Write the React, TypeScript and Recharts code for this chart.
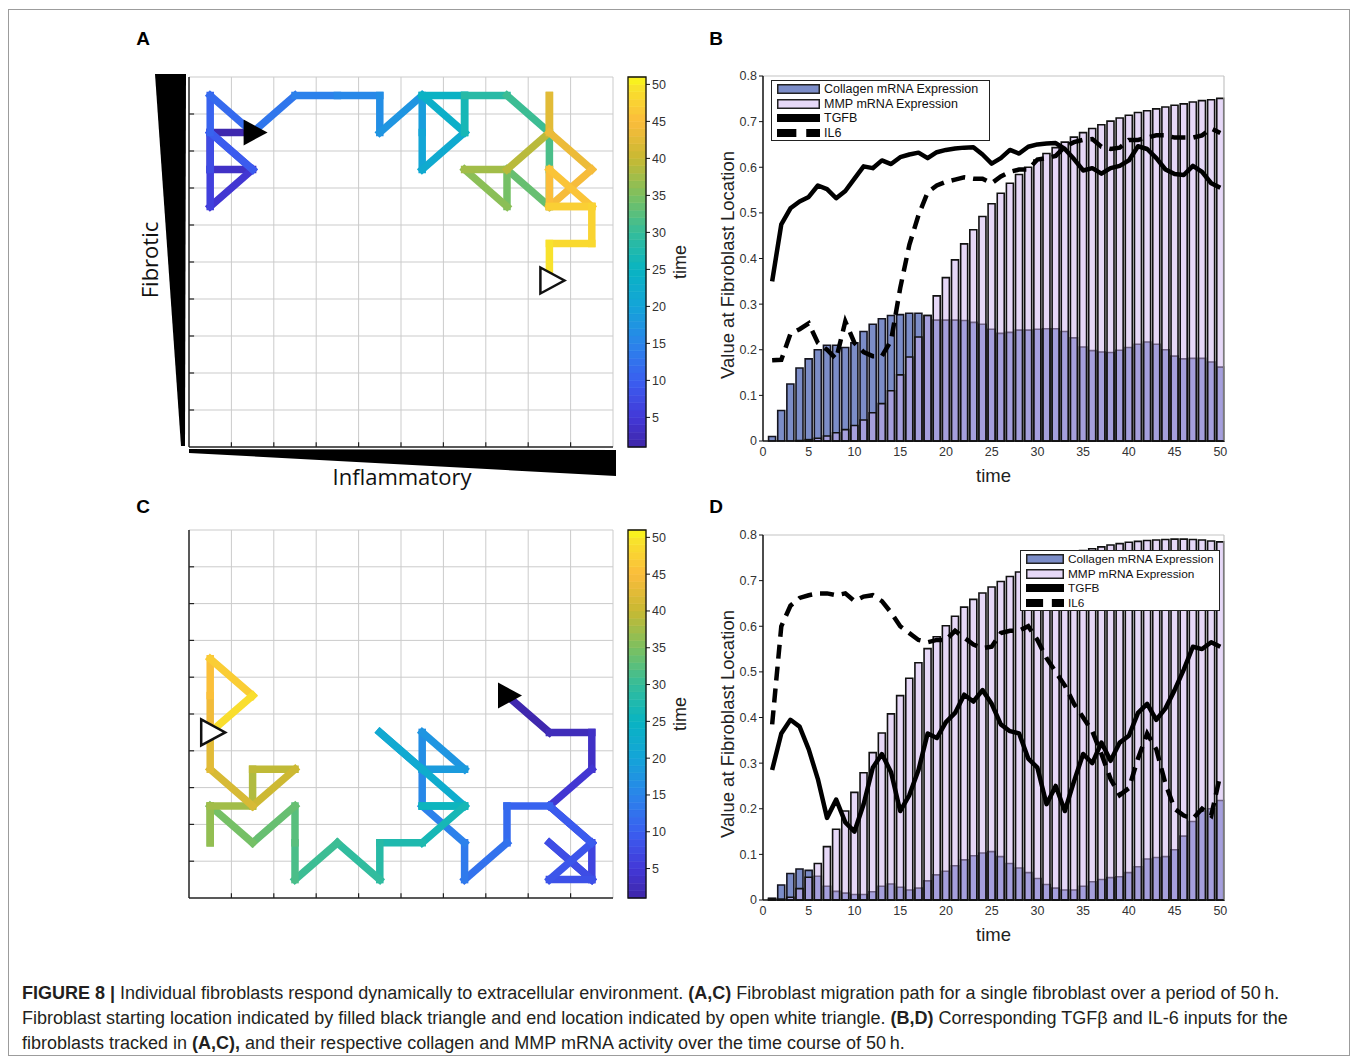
import React from "react";
import {
  ComposedChart,
  Line,
  Bar,
  XAxis,
  YAxis,
  Scatter,
  ReferenceArea,
  ReferenceLine,
} from "recharts";

const FONT = '"Liberation Sans", Arial, Helvetica, sans-serif';

// time steps for panels B and D
const timeSteps = [
  1, 2, 3, 4, 5, 6, 7, 8, 9, 10, 11, 12, 13, 14, 15, 16, 17, 18, 19, 20, 21, 22, 23, 24, 25,
  26, 27, 28, 29, 30, 31, 32, 33, 34, 35, 36, 37, 38, 39, 40, 41, 42, 43, 44, 45, 46, 47, 48, 49, 50,
];

const collagenB = [
  0.01, 0.067, 0.125, 0.16, 0.18, 0.2, 0.21, 0.21, 0.205, 0.215, 0.24, 0.256, 0.268, 0.275, 0.277,
  0.28, 0.28, 0.275, 0.265, 0.265, 0.265, 0.264, 0.26, 0.256, 0.245, 0.236, 0.238, 0.243, 0.243,
  0.245, 0.246, 0.246, 0.24, 0.226, 0.206, 0.198, 0.195, 0.194, 0.199, 0.205, 0.212, 0.217, 0.212,
  0.2, 0.186, 0.18, 0.181, 0.181, 0.173, 0.162,
];
const mmpB = [
  0, 0, 0, 0.001, 0.003, 0.006, 0.011, 0.018, 0.025, 0.034, 0.046, 0.062, 0.082, 0.11, 0.145, 0.184,
  0.228, 0.275, 0.318, 0.358, 0.397, 0.432, 0.463, 0.492, 0.52, 0.543, 0.565, 0.584, 0.6, 0.616,
  0.63, 0.643, 0.655, 0.666, 0.676, 0.685, 0.693, 0.701, 0.708, 0.714, 0.72, 0.724, 0.728, 0.732,
  0.736, 0.739, 0.743, 0.746, 0.748, 0.751,
];
const tgfbB = [
  0.35, 0.475, 0.51, 0.525, 0.535, 0.56, 0.552, 0.532, 0.548, 0.575, 0.602, 0.598, 0.615, 0.607,
  0.622, 0.628, 0.632, 0.62, 0.633, 0.638, 0.641, 0.643, 0.644, 0.628, 0.608, 0.62, 0.638, 0.63,
  0.645, 0.65, 0.652, 0.653, 0.64, 0.618, 0.593, 0.598, 0.586, 0.598, 0.603, 0.615, 0.646, 0.64,
  0.62, 0.595, 0.585, 0.583, 0.603, 0.59, 0.565, 0.555,
];
const il6B = [
  0.177, 0.178, 0.235, 0.245, 0.258, 0.215, 0.2, 0.18, 0.262, 0.215, 0.195, 0.186, 0.186, 0.22,
  0.335, 0.43, 0.495, 0.545, 0.56, 0.568, 0.573, 0.578, 0.575, 0.575, 0.565, 0.58, 0.59, 0.595,
  0.595, 0.617, 0.62, 0.625, 0.645, 0.655, 0.66, 0.662, 0.645, 0.64, 0.643, 0.66, 0.66, 0.665, 0.67,
  0.67, 0.665, 0.665, 0.665, 0.67, 0.685, 0.675,
];

const collagenD = [
  0.004, 0.033, 0.058, 0.068, 0.065, 0.052, 0.03, 0.019, 0.015, 0.012, 0.012, 0.018, 0.03, 0.035,
  0.028, 0.022, 0.026, 0.042, 0.055, 0.063, 0.075, 0.088, 0.097, 0.103, 0.106, 0.095, 0.08, 0.07,
  0.06, 0.047, 0.034, 0.026, 0.022, 0.022, 0.03, 0.04, 0.045, 0.049, 0.051, 0.06, 0.073, 0.09,
  0.093, 0.095, 0.11, 0.14, 0.172, 0.195, 0.2, 0.218,
];
const mmpD = [
  0.003, 0.002, 0.006, 0.025, 0.05, 0.08, 0.117, 0.155, 0.195, 0.236, 0.279, 0.323, 0.366, 0.408,
  0.448, 0.486, 0.52, 0.551, 0.577, 0.601, 0.622, 0.642, 0.659, 0.673, 0.686, 0.698, 0.709, 0.719,
  0.728, 0.735, 0.742, 0.749, 0.755, 0.76, 0.766, 0.77, 0.774, 0.778, 0.781, 0.784, 0.786, 0.788,
  0.789, 0.79, 0.791, 0.791, 0.79, 0.789, 0.787, 0.785,
];
const tgfbD = [
  0.285, 0.365, 0.395, 0.38, 0.33, 0.265, 0.18, 0.22, 0.17, 0.15, 0.21, 0.29, 0.32, 0.28, 0.195,
  0.23, 0.285, 0.365, 0.355, 0.39, 0.41, 0.45, 0.435, 0.46, 0.43, 0.385, 0.37, 0.365, 0.31, 0.29,
  0.21, 0.25, 0.195, 0.26, 0.32, 0.3, 0.345, 0.305, 0.345, 0.36, 0.41, 0.43, 0.395, 0.42, 0.46,
  0.505, 0.555, 0.55, 0.565, 0.555,
];
const il6D = [
  0.385, 0.6, 0.645, 0.662, 0.668, 0.672, 0.672, 0.668, 0.672, 0.655, 0.665, 0.668, 0.655, 0.63,
  0.6, 0.585, 0.57, 0.565, 0.57, 0.57, 0.59, 0.575, 0.56, 0.552, 0.555, 0.585, 0.59, 0.59, 0.6,
  0.57, 0.53, 0.5, 0.47, 0.43, 0.4, 0.37, 0.32, 0.265, 0.23, 0.245, 0.31, 0.365, 0.33, 0.255, 0.2,
  0.185, 0.178, 0.2, 0.185, 0.275,
];

const pathAx = [2, 1, 1, 2, 1, 1, 1, 2, 1, 1, 2, 3, 4, 5, 5, 6, 6, 6, 7, 6, 7, 7, 7, 8, 9, 9, 9, 8, 8, 7, 8, 9, 9, 9, 10, 9, 9, 10, 9, 10, 10, 9, 9];
const pathAy = [9, 9, 8, 8, 7, 8, 9, 8, 9, 10, 9, 10, 10, 10, 9, 10, 9, 8, 9, 10, 10, 9, 10, 10, 9, 8, 7, 8, 7, 8, 8, 9, 10, 9, 8, 7, 8, 7, 7, 7, 6, 6, 5];
const pathAt = [1, 2, 3, 4, 5, 7, 8, 9, 10, 11, 12, 14, 15, 16, 17, 18, 20, 21, 23, 24, 25, 26, 27, 30, 31, 32, 33, 34, 35, 37, 38, 40, 42, 43, 44, 45, 45.5, 46.5, 47, 47.5, 48, 49, 50];

const pathCx = [8, 9, 10, 10, 9, 10, 10, 9, 10, 9, 10, 9, 8, 8, 7, 7, 6, 6, 6, 7, 6, 5, 6, 7, 6, 7, 6, 5, 5, 4, 3, 3, 3, 2, 1, 1, 1, 2, 2, 3, 2, 1, 1, 1, 1, 2, 1];
const pathCy = [6, 5, 5, 4, 3, 2, 1, 2, 1, 1, 2, 3, 3, 2, 1, 2, 3, 4, 5, 4, 4, 5, 4, 3, 3, 3, 2, 2, 1, 2, 1, 2, 3, 2, 3, 2, 3, 3, 4, 4, 3, 4, 5, 6, 7, 6, 5];
const pathCt = [1, 2, 3, 4, 5, 6, 7, 7.5, 8, 8.5, 9, 10, 11, 12, 13, 14, 15, 16, 17, 18, 19, 21, 22, 23, 25, 26, 27, 28, 29, 30, 31, 32, 33, 34, 35, 36, 37, 38, 39, 40, 41, 42, 43, 45, 46, 48, 50];

const gridTicks = [0.5, 1.5, 2.5, 3.5, 4.5, 5.5, 6.5, 7.5, 8.5, 9.5, 10.5];
const colorbarTicks = [5, 10, 15, 20, 25, 30, 35, 40, 45, 50];
const valueTicks = [0, 0.1, 0.2, 0.3, 0.4, 0.5, 0.6, 0.7, 0.8];
const timeTicks = [0, 5, 10, 15, 20, 25, 30, 35, 40, 45, 50];
const legendNames = ["Collagen mRNA Expression", "MMP mRNA Expression", "TGFB", "IL6"];

const COLLAGEN = "#7c8dc8";
const MMP = "#cdb2f0";
const GRID = "#cbcbcb";

const parulaStops: [number, string][] = [
  [1, "#3e26a8"],
  [5, "#4338d8"],
  [10, "#3a5ff0"],
  [15, "#2a85ea"],
  [20, "#14a4d8"],
  [25, "#09b4c2"],
  [30, "#35bd9a"],
  [35, "#7cc060"],
  [40, "#c8b932"],
  [45, "#fbbc3c"],
  [50, "#f8e62a"],
  [51, "#f9fb14"],
];

function hexToRgb(h: string): number[] {
  const n = parseInt(h.slice(1), 16);
  return [(n >> 16) & 255, (n >> 8) & 255, n & 255];
}

function parula(t: number): string {
  const v = Math.max(1, Math.min(51, t));
  for (let i = 0; i < parulaStops.length - 1; i++) {
    const [t0, c0] = parulaStops[i];
    const [t1, c1] = parulaStops[i + 1];
    if (v <= t1) {
      const f = (v - t0) / (t1 - t0);
      const a = hexToRgb(c0);
      const b = hexToRgb(c1);
      const m = a.map((x, k) => Math.round(x + (b[k] - x) * f));
      return `rgb(${m[0]},${m[1]},${m[2]})`;
    }
  }
  return parulaStops[parulaStops.length - 1][1];
}

function Triangle(props: any) {
  const { cx, cy, open } = props;
  if (cx == null || cy == null) return null;
  const pts = `${cx - 9},${cy - 13} ${cx - 9},${cy + 13} ${cx + 15},${cy}`;
  return open ? (
    <polygon points={pts} fill="#fff" stroke="#111" strokeWidth={2.5} />
  ) : (
    <polygon points={pts} fill="#000" />
  );
}

function Nothing() {
  return <g />;
}

function PathPanel({ xs, ys, ts, top, height }: { xs: number[]; ys: number[]; ts: number[]; top: number; height: number }) {
  const last = xs.length - 1;
  const segments = xs.slice(1).map((_, i) => ({
    data: [
      { x: xs[i], y: ys[i] },
      { x: xs[i + 1], y: ys[i + 1] },
    ],
    t: (ts[i] + ts[i + 1]) / 2,
  }));
  const gridPoints = gridTicks.map((v) => ({ x: v, y: v }));
  const inner = gridTicks.slice(1, -1);
  return (
    <div style={{ position: "absolute", left: 179, top: top - 10 }}>
      <ComposedChart width={444} height={height + 20} data={gridPoints} margin={{ top: 10, right: 10, bottom: 9, left: 9 }}>
        <XAxis
          type="number"
          dataKey="x"
          domain={[0.5, 10.5]}
          ticks={gridTicks}
          height={1}
          tick={false}
          tickLine={false}
          axisLine={{ stroke: "#222", strokeWidth: 1.5 }}
        />
        <YAxis
          type="number"
          dataKey="y"
          domain={[0.5, 10.5]}
          ticks={gridTicks}
          width={1}
          tick={false}
          tickLine={false}
          axisLine={{ stroke: "#222", strokeWidth: 1.5 }}
        />
        {gridTicks.slice(1).map((v) => (
          <ReferenceLine key={`gx${v}`} x={v} stroke={GRID} strokeWidth={1} />
        ))}
        {gridTicks.slice(1).map((v) => (
          <ReferenceLine key={`gy${v}`} y={v} stroke={GRID} strokeWidth={1} />
        ))}
        {inner.map((v) => (
          <ReferenceLine
            key={`tx${v}`}
            segment={[
              { x: v, y: 0.5 },
              { x: v, y: 0.63 },
            ]}
            stroke="#222"
            strokeWidth={1.2}
          />
        ))}
        {inner.map((v) => (
          <ReferenceLine
            key={`ty${v}`}
            segment={[
              { x: 0.5, y: v },
              { x: 0.62, y: v },
            ]}
            stroke="#222"
            strokeWidth={1.2}
          />
        ))}
        {segments.map((s, i) => (
          <Line
            key={i}
            data={s.data}
            dataKey="y"
            type="linear"
            stroke={parula(s.t)}
            strokeWidth={7.5}
            strokeLinecap="square"
            dot={false}
            activeDot={false}
            isAnimationActive={false}
          />
        ))}
        <Scatter data={[{ x: xs[0], y: ys[0] }]} shape={(p: any) => <Triangle {...p} />} isAnimationActive={false} />
        <Scatter data={[{ x: xs[last], y: ys[last] }]} shape={(p: any) => <Triangle {...p} open />} isAnimationActive={false} />
      </ComposedChart>
    </div>
  );
}

function RotatedTitle(props: any) {
  const { cx, cy, text, size } = props;
  return (
    <text
      x={cx}
      y={cy}
      transform={`rotate(-90 ${cx} ${cy})`}
      textAnchor="middle"
      dominantBaseline="central"
      fontFamily={FONT}
      fontSize={size}
      fill="#222"
    >
      {text}
    </text>
  );
}

function Colorbar({ top, height }: { top: number; height: number }) {
  const marks = colorbarTicks.map((v) => ({ x: 0.5, y: v }));
  return (
    <div style={{ position: "absolute", left: 618, top: top - 10 }}>
      <ComposedChart width={110} height={height + 20} data={marks} margin={{ top: 10, right: 0, bottom: 10, left: 10 }}>
        <XAxis type="number" dataKey="x" domain={[0, 1]} hide />
        <YAxis
          type="number"
          dataKey="y"
          orientation="right"
          domain={[1, 51]}
          ticks={colorbarTicks}
          width={82}
          tickSize={4}
          tickMargin={2}
          axisLine={false}
          tickLine={{ stroke: "#111" }}
          tick={{ fontSize: 12.5, fill: "#333", fontFamily: FONT }}
          label={<RotatedTitle cx={62} cy={height / 2 + 10} text="time" size={18} />}
        />
        {timeSteps.map((s) => (
          <ReferenceArea
            key={s}
            x1={0}
            x2={1}
            y1={s}
            y2={s + 1}
            fill={parula(s + 0.5)}
            stroke={parula(s + 0.5)}
            strokeWidth={0.6}
            fillOpacity={1}
          />
        ))}
        <ReferenceArea x1={0} x2={1} y1={1} y2={51} fill="none" stroke="#111" strokeWidth={1.3} />
        <Scatter dataKey="y" shape={<Nothing />} isAnimationActive={false} />
      </ComposedChart>
    </div>
  );
}

function Swatch({ kind, w }: { kind: number; w: number }) {
  if (kind === 0) return <rect x={0.75} y={0.75} width={w - 1.5} height={8.5} fill={COLLAGEN} stroke="#222" strokeWidth={1.5} />;
  if (kind === 1) return <rect x={0.75} y={0.75} width={w - 1.5} height={8.5} fill="#e6d8f7" stroke="#222" strokeWidth={1.5} />;
  if (kind === 2) return <rect x={0} y={1} width={w} height={8} fill="#000" />;
  return (
    <g>
      <rect x={0} y={1} width={w * 0.45} height={8} fill="#000" />
      <rect x={w * 0.68} y={1} width={w * 0.32} height={8} fill="#000" />
    </g>
  );
}

function LegendBox({ left, top, width, swW, fontSize }: { left: number; top: number; width: number; swW: number; fontSize: number }) {
  return (
    <div
      style={{
        position: "absolute",
        left,
        top,
        width,
        height: 61,
        border: "1.2px solid #222",
        background: "#fff",
        boxSizing: "border-box",
      }}
    >
      {legendNames.map((name, i) => (
        <div
          key={name}
          style={{ position: "absolute", left: 5, top: 1 + i * 14.5, height: 14.5, display: "flex", alignItems: "center" }}
        >
          <svg width={swW} height={10}>
            <Swatch kind={i} w={swW} />
          </svg>
          <span style={{ marginLeft: 4, fontSize, fontFamily: FONT, color: "#111", whiteSpace: "nowrap" }}>{name}</span>
        </div>
      ))}
    </div>
  );
}

function SeriesPanel({
  top,
  collagen,
  mmp,
  tgfb,
  il6,
}: {
  top: number;
  collagen: number[];
  mmp: number[];
  tgfb: number[];
  il6: number[];
}) {
  const rows = timeSteps.map((t, i) => ({ t, collagen: collagen[i], mmp: mmp[i], tgfb: tgfb[i], il6: il6[i] }));
  const tickStyle = { fontSize: 12.5, fill: "#333", fontFamily: FONT };
  return (
    <div style={{ position: "absolute", left: 700, top: top - 16 }}>
      <ComposedChart width={540} height={440} data={rows} margin={{ top: 16, right: 16, bottom: 14, left: 0 }}>
        <XAxis
          xAxisId="main"
          type="number"
          dataKey="t"
          domain={[0, 50.4]}
          ticks={timeTicks}
          height={45}
          tickSize={3}
          tickMargin={3}
          axisLine={{ stroke: "#111", strokeWidth: 1.5 }}
          tickLine={false}
          tick={tickStyle}
          label={(p: any) => (
            <text
              x={p.viewBox ? p.viewBox.x + p.viewBox.width / 2 : 293}
              y={p.viewBox ? p.viewBox.y + 41 : 422}
              textAnchor="middle"
              fontFamily={FONT}
              fontSize={18.5}
              fill="#222"
            >
              time
            </text>
          )}
        />
        <XAxis xAxisId="over" type="number" dataKey="t" domain={[0, 50.4]} hide />
        <YAxis
          xAxisId="main"
          type="number"
          domain={[0, 0.8]}
          ticks={valueTicks}
          width={63}
          tickSize={4}
          tickMargin={2}
          axisLine={{ stroke: "#111", strokeWidth: 1.5 }}
          tickLine={{ stroke: "#111" }}
          tick={tickStyle}
          label={<RotatedTitle cx={27} cy={205} text="Value at Fibroblast Location" size={18.5} />}
        />
        <ReferenceLine xAxisId="main" y={0.8} stroke="#c4c4c4" strokeWidth={1.2} />
        <ReferenceLine xAxisId="main" x={50.4} stroke="#c4c4c4" strokeWidth={1.2} />
        <Bar xAxisId="main" dataKey="collagen" barSize={7} fill={COLLAGEN} stroke="#15151f" strokeWidth={1.6} isAnimationActive={false} />
        <Bar xAxisId="over" dataKey="mmp" barSize={7} fill={MMP} fillOpacity={0.5} stroke="#111" strokeWidth={1.6} isAnimationActive={false} />
        <Line xAxisId="main" dataKey="tgfb" type="linear" stroke="#000" strokeWidth={4.5} strokeLinejoin="round" dot={false} activeDot={false} isAnimationActive={false} />
        <Line xAxisId="main" dataKey="il6" type="linear" stroke="#000" strokeWidth={4.5} strokeDasharray="14 8" dot={false} activeDot={false} isAnimationActive={false} />
      </ComposedChart>
    </div>
  );
}

function PanelLetter({ x, y, children }: { x: number; y: number; children: React.ReactNode }) {
  return (
    <div
      style={{
        position: "absolute",
        left: x,
        top: y,
        transform: "translate(-50%, -50%)",
        fontFamily: FONT,
        fontWeight: 700,
        fontSize: 19,
        lineHeight: 1,
        color: "#000",
      }}
    >
      {children}
    </div>
  );
}

export default function App() {
  const captionLine: React.CSSProperties = {
    position: "absolute",
    left: 22,
    whiteSpace: "nowrap",
    fontFamily: FONT,
    fontSize: 18,
    color: "#231f20",
    lineHeight: "22px",
  };
  return (
    <div style={{ position: "absolute", left: 0, top: 0, width: 1357, height: 1062, background: "#fff", overflow: "hidden" }}>
      <div
        style={{
          position: "absolute",
          left: 8,
          top: 9,
          width: 1342,
          height: 1047,
          border: "1.5px solid #9c9c9c",
          boxSizing: "border-box",
        }}
      />
      <svg width={1357} height={1062} style={{ position: "absolute", left: 0, top: 0 }}>
        <polygon points="155,74 186,74 185,446 181,446" fill="#000" />
        <polygon points="189,449 616,450 616,476 189,453" fill="#000" />
        <text
          x={158}
          y={260}
          transform="rotate(-90 158 260)"
          textAnchor="middle"
          fontFamily='"Open Sans", sans-serif'
          fontSize={22}
          fill="#111"
        >
          Fibrotic
        </text>
        <text x={402} y={485} textAnchor="middle" fontFamily='"Open Sans", sans-serif' fontSize={22} fill="#111">
          Inflammatory
        </text>
      </svg>

      <PanelLetter x={143} y={38}>A</PanelLetter>
      <PanelLetter x={716} y={38}>B</PanelLetter>
      <PanelLetter x={143} y={506}>C</PanelLetter>
      <PanelLetter x={716} y={506}>D</PanelLetter>

      <PathPanel xs={pathAx} ys={pathAy} ts={pathAt} top={77} height={370} />
      <Colorbar top={77} height={370} />
      <PathPanel xs={pathCx} ys={pathCy} ts={pathCt} top={530} height={368} />
      <Colorbar top={530} height={368} />

      <SeriesPanel top={76} collagen={collagenB} mmp={mmpB} tgfb={tgfbB} il6={il6B} />
      <LegendBox left={771} top={80} width={219} swW={43} fontSize={12.5} />
      <SeriesPanel top={535} collagen={collagenD} mmp={mmpD} tgfb={tgfbD} il6={il6D} />
      <LegendBox left={1020} top={550} width={200} swW={38} fontSize={11.8} />

      <div style={{ ...captionLine, top: 982 }}>
        <b>FIGURE 8 |</b> Individual fibroblasts respond dynamically to extracellular environment. <b>(A,C)</b> Fibroblast
        migration path for a single fibroblast over a period of 50{"\u2009"}h.
      </div>
      <div style={{ ...captionLine, top: 1007 }}>
        Fibroblast starting location indicated by filled black triangle and end location indicated by open white triangle.{" "}
        <b>(B,D)</b> Corresponding TGFβ and IL-6 inputs for the
      </div>
      <div style={{ ...captionLine, top: 1032 }}>
        fibroblasts tracked in <b>(A,C),</b> and their respective collagen and MMP mRNA activity over the time course of 50
        {"\u2009"}h.
      </div>
    </div>
  );
}
